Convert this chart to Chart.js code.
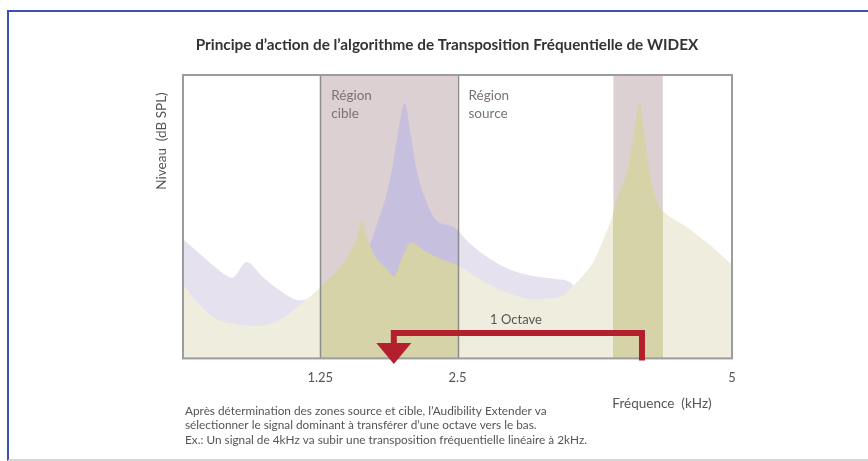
<!DOCTYPE html>
<html><head><meta charset="utf-8">
<script src="https://cdn.jsdelivr.net/npm/chart.js@4.4.1/dist/chart.umd.min.js"></script>
<style>
html,body{margin:0;padding:0;background:#fff;}
#wrap{position:relative;width:868px;height:461px;overflow:hidden;background:#fff;}
#frame{position:absolute;left:7px;top:10px;width:900px;height:447px;border-left:2px solid #3b4fb4;border-top:2px solid #3b4fb4;border-bottom:2px solid #d6d6d6;}
canvas{position:absolute;left:0;top:0;}
</style></head><body>
<div id="wrap"><div id="frame"></div><canvas id="c" width="868" height="461"></canvas></div>
<script>
// ---- data ----
const tickValues = [1.25, 2.5, 5];
const tickLabels = ['1.25', '2.5', '5'];
const gridValues = [1.25, 2.5];
const bandStart = [1.25, 3.92];
const bandEnd = [2.5, 4.37];

const purpleFreq  = [0, 0.15, 0.3, 0.45, 0.58, 0.72, 0.88, 1.07, 1.2, 1.4, 1.6, 1.7, 1.78, 1.84, 1.9, 1.96, 2.02, 2.07, 2.13, 2.2, 2.3, 2.48, 2.6, 2.8, 3.0, 3.2, 3.4, 3.52, 3.65, 4.0, 4.5, 5.0];
const purpleLevel = [42, 37, 32, 28.5, 34, 29, 24, 20.5, 22, 27, 33, 40, 49, 56, 66, 80, 90, 80, 66, 57, 49, 46, 41, 35, 31, 29, 28, 27, 22, 16, 13, 11];

const greenFreq  = [0, 0.15, 0.3, 0.5, 0.7, 0.9, 1.07, 1.25, 1.4, 1.5, 1.58, 1.63, 1.68, 1.75, 1.85, 1.92, 2.0, 2.08, 2.2, 2.35, 2.5, 2.7, 2.9, 3.2, 3.45, 3.55, 3.65, 3.75, 3.83, 3.9, 3.96, 4.05, 4.1, 4.16, 4.2, 4.25, 4.33, 4.4, 4.6, 4.8, 5.0];
const greenLevel = [26, 19, 14, 12, 11.5, 14, 19, 25, 31, 36, 42, 49, 42, 36, 32, 29, 36, 41, 38, 35, 33, 28, 24, 21, 22, 25.5, 29.5, 35, 42, 49, 57, 67, 78, 90, 80, 66, 54, 51, 46, 40, 33];

const arrowFromKHz = 4.18;
const arrowToKHz = 1.92;
const arrowLevel = 9;

const titleText = "Principe d\u2019action de l\u2019algorithme de Transposition Fr\u00e9quentielle de WIDEX";
const yTitle = "Niveau  (dB SPL)";
const xTitle = "Fr\u00e9quence  (kHz)";
const regionTexts = [["R\u00e9gion", "cible"], ["R\u00e9gion", "source"]];
const regionAt = [1.25, 2.5];
const octaveText = "1 Octave";
const footLines = [
  "Apr\u00e8s d\u00e9termination des zones source et cible, l\u2019Audibility Extender va",
  "s\u00e9lectionner le signal dominant \u00e0 transf\u00e9rer d\u2019une octave vers le bas.",
  "Ex.: Un signal de 4kHz va subir une transposition fr\u00e9quentielle lin\u00e9aire \u00e0 2kHz."
];

const toXY = (xs, ys) => xs.map((v, i) => ({x: v, y: ys[i]}));

function bandGradient(chart, inCol, outCol) {
  const ca = chart.chartArea, x = chart.scales.x;
  if (!ca || !x) return outCol;
  const g = chart.ctx.createLinearGradient(ca.left, 0, ca.right, 0);
  const w = ca.right - ca.left;
  g.addColorStop(0, outCol);
  bandStart.forEach((a, i) => {
    const pa = Math.min(1, Math.max(0, (x.getPixelForValue(a) - ca.left) / w));
    const pb = Math.min(1, Math.max(0, (x.getPixelForValue(bandEnd[i]) - ca.left) / w));
    g.addColorStop(pa, outCol); g.addColorStop(pa, inCol);
    g.addColorStop(pb, inCol); g.addColorStop(pb, outCol);
  });
  g.addColorStop(1, outCol);
  return g;
}

const decor = {
  id: 'decor',
  beforeDatasetsDraw(chart) {
    const {ctx, chartArea: ca, scales: {x}} = chart;
    ctx.save();
    ctx.fillStyle = '#ddd0d3';
    bandStart.forEach((a, i) => {
      const xa = x.getPixelForValue(a), xb = x.getPixelForValue(bandEnd[i]);
      ctx.fillRect(xa, ca.top, xb - xa, ca.bottom - ca.top);
    });
    ctx.restore();
  },
  afterDatasetsDraw(chart) {
    const {ctx, chartArea: ca, scales: {x, y}} = chart;
    ctx.save();
    ctx.strokeStyle = '#8c8c8c'; ctx.lineWidth = 1.5;
    gridValues.forEach(v => {
      const px = Math.round(x.getPixelForValue(v)) + 0.5;
      ctx.beginPath(); ctx.moveTo(px, ca.top); ctx.lineTo(px, ca.bottom); ctx.stroke();
    });
    ctx.strokeStyle = '#9c9c9c'; ctx.lineWidth = 2;
    ctx.strokeRect(ca.left, ca.top, ca.right - ca.left, ca.bottom - ca.top);
    const xf = x.getPixelForValue(arrowFromKHz), xt = x.getPixelForValue(arrowToKHz);
    const yl = y.getPixelForValue(arrowLevel);
    const headTop = yl + 10;
    ctx.strokeStyle = '#b31f2d'; ctx.fillStyle = '#b31f2d';
    ctx.lineWidth = 6; ctx.lineJoin = 'miter'; ctx.lineCap = 'butt';
    ctx.beginPath();
    ctx.moveTo(xf, ca.bottom + 2); ctx.lineTo(xf, yl); ctx.lineTo(xt, yl); ctx.lineTo(xt, headTop + 1);
    ctx.stroke();
    ctx.beginPath();
    ctx.moveTo(xt - 17.5, headTop); ctx.lineTo(xt + 17.5, headTop); ctx.lineTo(xt, headTop + 21);
    ctx.closePath(); ctx.fill();
    ctx.fillStyle = '#7a7272'; ctx.font = '13.5px Lato'; ctx.textBaseline = 'middle'; ctx.textAlign = 'left';
    regionTexts.forEach((lines, i) => {
      const px = x.getPixelForValue(regionAt[i]) + 11;
      lines.forEach((t, j) => ctx.fillText(t, px, 96 + j * 18));
    });
    ctx.fillStyle = '#555'; ctx.textAlign = 'center'; ctx.font = '13px Lato';
    ctx.fillText(octaveText, 516, yl - 13);
    ctx.restore();
  },
  afterDraw(chart) {
    const {ctx} = chart;
    ctx.save();
    ctx.fillStyle = '#333'; ctx.font = 'bold 15.3px Lato'; ctx.textAlign = 'center'; ctx.textBaseline = 'middle';
    ctx.fillText(titleText, 447, 45);
    ctx.fillStyle = '#555'; ctx.font = '13.5px Lato';
    ctx.save(); ctx.translate(162, 141); ctx.rotate(-Math.PI / 2); ctx.fillText(yTitle, 0, 0); ctx.restore();
    ctx.fillText(xTitle, 662, 404);
    ctx.textAlign = 'left'; ctx.font = '11.8px Lato';
    footLines.forEach((t, i) => ctx.fillText(t, 185, 411 + i * 14.5));
    ctx.restore();
  }
};

new Chart(document.getElementById('c'), {
  type: 'line',
  data: {
    datasets: [
      {
        label: 'green', data: toXY(greenFreq, greenLevel), order: 1,
        fill: 'origin', borderWidth: 0, pointRadius: 0, cubicInterpolationMode: 'monotone',
        borderColor: 'rgba(0,0,0,0)',
        backgroundColor: (c) => bandGradient(c.chart, '#d5d3a7', '#efedde')
      },
      {
        label: 'purple', data: toXY(purpleFreq, purpleLevel), order: 2,
        fill: 'origin', borderWidth: 0, pointRadius: 0, cubicInterpolationMode: 'monotone',
        borderColor: 'rgba(0,0,0,0)',
        backgroundColor: (c) => bandGradient(c.chart, '#c6bfdd', '#e5e1ef')
      }
    ]
  },
  options: {
    responsive: false, animation: false, devicePixelRatio: 1,
    layout: {padding: {left: 183, right: 136, top: 75, bottom: 63}},
    plugins: {legend: {display: false}, tooltip: {enabled: false}, title: {display: false}},
    scales: {
      x: {
        type: 'linear', min: 0, max: 5,
        afterBuildTicks: (s) => { s.ticks = tickValues.map(v => ({value: v})); },
        ticks: {
          autoSkip: false, maxRotation: 0, padding: 12, color: '#555', font: {family: 'Lato', size: 13},
          callback: (v) => { const i = tickValues.indexOf(v); return i >= 0 ? tickLabels[i] : ''; }
        },
        grid: {display: false, drawTicks: false}, border: {display: false}
      },
      y: {min: 0, max: 100, display: false}
    }
  },
  plugins: [decor]
});
</script>
</body></html>
